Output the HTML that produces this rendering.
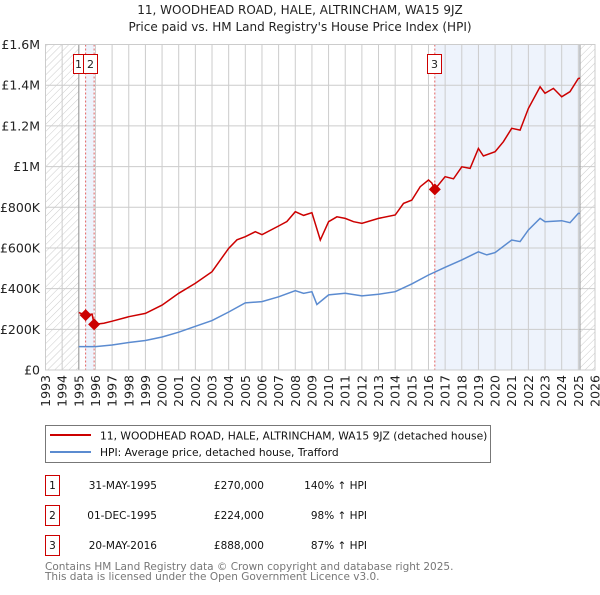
<!DOCTYPE html>
<html><head><meta charset="utf-8"><style>
body{margin:0;background:#fff;width:600px;height:590px;overflow:hidden}
svg text{font-family:"DejaVu Sans","Liberation Sans",sans-serif}
</style></head><body>
<svg id="chart" width="600" height="590" xmlns="http://www.w3.org/2000/svg">
<defs><pattern id="hatch" width="5" height="5" patternUnits="userSpaceOnUse" patternTransform="rotate(45)"><line x1="0" y1="0" x2="0" y2="5" stroke="#ccc" stroke-width="1"/></pattern></defs>
<text x="300" y="14" text-anchor="middle" font-size="12" fill="#222">11, WOODHEAD ROAD, HALE, ALTRINCHAM, WA15 9JZ</text>
<text x="300" y="31" text-anchor="middle" font-size="12" fill="#222">Price paid vs. HM Land Registry's House Price Index (HPI)</text>
<g id="plot"></g>
<g>
<rect x="45.5" y="425.5" width="445" height="37" fill="#fff" stroke="#777"/>
<line x1="50" y1="435" x2="91" y2="435" stroke="#cc0000" stroke-width="2"/>
<text x="100" y="439.5" font-size="10.7" fill="#111">11, WOODHEAD ROAD, HALE, ALTRINCHAM, WA15 9JZ (detached house)</text>
<line x1="50" y1="452" x2="91" y2="452" stroke="#5b8bd0" stroke-width="2"/>
<text x="100" y="456" font-size="10.7" fill="#111">HPI: Average price, detached house, Trafford</text>
</g>
<g font-size="10.5" fill="#111">
<rect x="45.5" y="475.5" width="14" height="20" fill="none" stroke="#cc0000"/><text x="52.5" y="489" text-anchor="middle">1</text>
<text x="157" y="489" text-anchor="end">31-MAY-1995</text><text x="264" y="489" text-anchor="end">£270,000</text><text x="367" y="489" text-anchor="end">140% ↑ HPI</text>
<rect x="45.5" y="505.5" width="14" height="20" fill="none" stroke="#cc0000"/><text x="52.5" y="519" text-anchor="middle">2</text>
<text x="157" y="519" text-anchor="end">01-DEC-1995</text><text x="264" y="519" text-anchor="end">£224,000</text><text x="367" y="519" text-anchor="end">98% ↑ HPI</text>
<rect x="45.5" y="535.5" width="14" height="20" fill="none" stroke="#cc0000"/><text x="52.5" y="549" text-anchor="middle">3</text>
<text x="157" y="549" text-anchor="end">20-MAY-2016</text><text x="264" y="549" text-anchor="end">£888,000</text><text x="367" y="549" text-anchor="end">87% ↑ HPI</text>
</g>
<text x="45" y="570" font-size="10.5" fill="#777">Contains HM Land Registry data © Crown copyright and database right 2025.</text>
<text x="45" y="580" font-size="10.5" fill="#777">This data is licensed under the Open Government Licence v3.0.</text>
</svg>
<script>
const yTicks=[0,200,400,600,800,1000,1200,1400,1600];
const yTickLabels=["£0","£200K","£400K","£600K","£800K","£1M","£1.2M","£1.4M","£1.6M"];
const years=[1993,1994,1995,1996,1997,1998,1999,2000,2001,2002,2003,2004,2005,2006,2007,2008,2009,2010,2011,2012,2013,2014,2015,2016,2017,2018,2019,2020,2021,2022,2023,2024,2025,2026];
const hpiT=[1995.0,1996,1997,1998,1999,2000,2001,2002,2003,2004,2005,2006,2007,2008,2008.5,2009,2009.3,2010,2011,2012,2013,2014,2015,2016,2017,2018,2019,2019.5,2020,2021,2021.5,2022,2022.7,2023,2024,2024.5,2025,2025.1];
const hpiV=[115,115,123,135,145,162,186,215,243,285,330,336,360,390,377,385,322,369,377,364,372,385,423,467,505,541,581,566,577,639,631,688,745,729,734,724,770,770];
const redT=[1995.0,1995.4,1995.8,1995.92,1996.5,1997,1998,1999,2000,2001,2002,2003,2004,2004.5,2005,2005.6,2006,2007,2007.5,2008,2008.5,2009,2009.5,2010,2010.5,2011,2011.5,2012,2013,2014,2014.5,2015,2015.5,2016,2016.2,2016.38,2017,2017.5,2018,2018.5,2019,2019.3,2020,2020.5,2021,2021.5,2022,2022.7,2023,2023.5,2024,2024.5,2025,2025.1];
const redV=[282,270,275,224,230,240,262,278,319,377,426,483,598,640,655,680,665,708,730,778,760,773,639,729,753,745,729,721,745,762,819,835,901,934,919,888,950,940,999,991,1089,1052,1073,1122,1188,1179,1286,1392,1360,1384,1343,1368,1433,1435];
const saleT=[1995.41,1995.92,2016.38];
const saleV=[270,224,888];
const saleLabels=["1","2","3"];
const X0=45.5,X1=595,Y0=370,Y1=44.5;
const xs=t=>X0+(t-1993)/(2026-1993)*(X1-X0);
const ys=v=>Y0-v/1600*(Y0-Y1);
const NS="http://www.w3.org/2000/svg";
const g=document.getElementById('plot');
function mk(tag,at,parent){const e=document.createElementNS(NS,tag);for(const k in at)e.setAttribute(k,at[k]);(parent||g).appendChild(e);return e;}
let r=mk('rect',{x:xs(saleT[0]),y:Y1,width:xs(saleT[1])-xs(saleT[0]),height:Y0-Y1,fill:'#eef3fc'});


r=mk('rect',{x:xs(saleT[2]),y:Y1,width:xs(2025.1)-xs(saleT[2]),height:Y0-Y1,fill:'#eef3fc'});


r=mk('rect',{x:X0,y:Y1,width:xs(1995)-X0,height:Y0-Y1,fill:'url(#hatch)'});


r=mk('rect',{x:xs(2025.1),y:Y1,width:X1-xs(2025.1),height:Y0-Y1,fill:'url(#hatch)'});


years.forEach(y=>{const l=mk('line',{x1:xs(y),x2:xs(y),y1:Y1,y2:Y0,stroke:'#ccc'});


const t=mk('text',{x:0,y:0,'font-size':12.5,fill:'#222','text-anchor':'end',transform:`translate(${xs(y)+4.5},${Y0+5}) rotate(-90)`});t.textContent=y;

});
yTicks.forEach((v,i)=>{const l=mk('line',{x1:X0,x2:X1,y1:ys(v),y2:ys(v),stroke:'#ccc'});


const t=mk('text',{x:40,y:ys(v)+4.5,'font-size':12.5,fill:'#222','text-anchor':'end'});t.textContent=yTickLabels[i];

});
let b=mk('line',{x1:xs(1995),x2:xs(1995),y1:Y1,y2:Y0,stroke:'#999'});


b=mk('line',{x1:xs(2025.1),x2:xs(2025.1),y1:Y1,y2:Y0,stroke:'#999'});


saleT.forEach((t,i)=>{const l=mk('line',{x1:xs(t),x2:xs(t),y1:Y1,y2:Y0,stroke:'#e06060','stroke-dasharray':'2,2'});

});
const pts=(T,V)=>T.map((t,i)=>xs(t).toFixed(1)+','+ys(V[i]).toFixed(1)).join(' ');
let p=mk('polyline',{points:pts(hpiT,hpiV),fill:'none',stroke:'#5b8bd0','stroke-width':1.5});


p=mk('polyline',{points:pts(redT,redV),fill:'none',stroke:'#cc0000','stroke-width':1.5});


const boxX=[73.5,83.5,null],boxW=[10,14,14];
saleT.forEach((t,i)=>{const x=xs(t),y=ys(saleV[i]);
const d=mk('path',{d:`M${x},${y-6}L${x+6},${y}L${x},${y+6}L${x-6},${y}Z`,fill:'#cc0000'});


const bxx=boxX[i]!==null?boxX[i]:Math.round(x)-7.5;
const bx=mk('rect',{x:bxx,y:54.5,width:boxW[i],height:19,fill:'#fff',stroke:'#cc0000'});


const tx=mk('text',{x:bxx+boxW[i]/2,y:68,'font-size':11,fill:'#222','text-anchor':'middle'});tx.textContent=saleLabels[i];

});
const fr=mk('rect',{x:X0,y:Y1,width:X1-X0,height:Y0-Y1,fill:'none',stroke:'#ccc'});


</script>
</body></html>
